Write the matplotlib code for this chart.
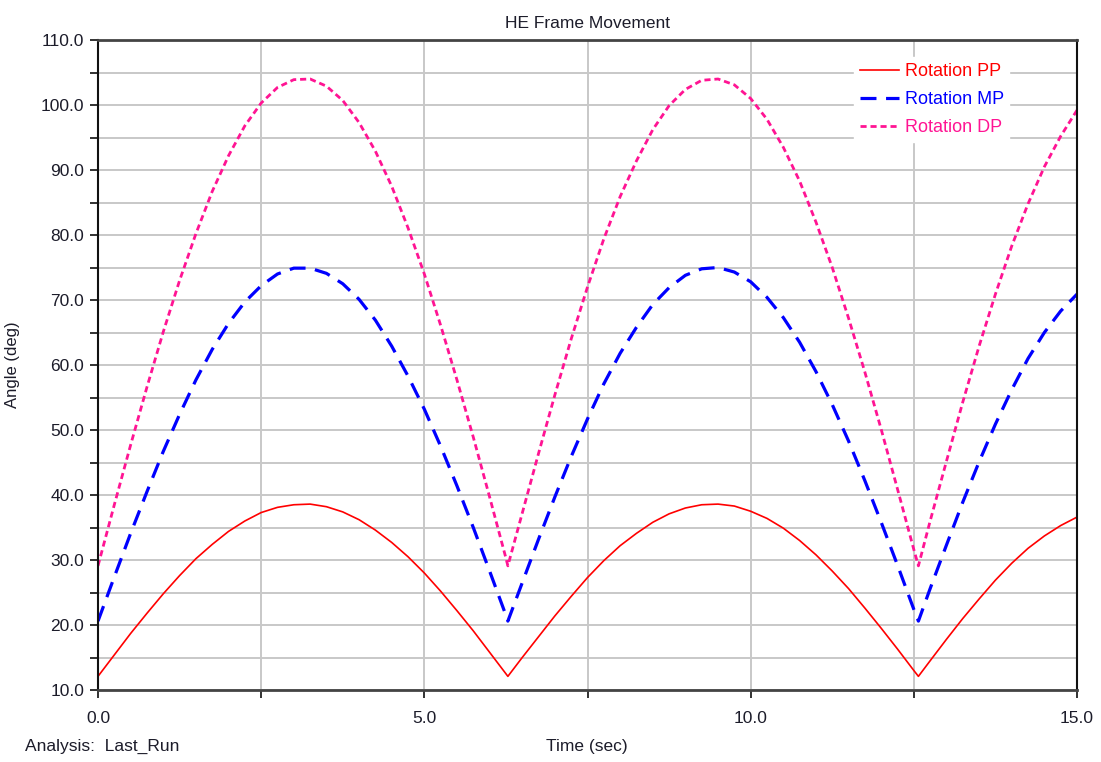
import matplotlib.pyplot as plt
from matplotlib.ticker import FixedLocator, FuncFormatter

plt.rcParams["font.family"] = ["Liberation Sans", "DejaVu Sans"]

time = [0.0, 0.25, 0.5, 0.75, 1.0, 1.25, 1.5, 1.75, 2.0, 2.25, 2.5, 2.75,
        3.0, 3.25, 3.5, 3.75, 4.0, 4.25, 4.5, 4.75, 5.0, 5.25, 5.5, 5.75,
        6.0, 6.25, 6.28, 6.5, 6.75, 7.0, 7.25, 7.5, 7.75, 8.0, 8.25, 8.5,
        8.75, 9.0, 9.25, 9.5, 9.75, 10.0, 10.25, 10.5, 10.75, 11.0, 11.25,
        11.5, 11.75, 12.0, 12.25, 12.5, 12.57, 12.75, 13.0, 13.25, 13.5,
        13.75, 14.0, 14.25, 14.5, 14.75, 15.0]

rot_pp = [12.1, 15.4, 18.7, 21.8, 24.8, 27.6, 30.2, 32.4, 34.4, 36.0, 37.3, 38.1,
          38.5, 38.6, 38.2, 37.4, 36.2, 34.6, 32.7, 30.5, 28.0, 25.2, 22.2, 19.1,
          15.8, 12.5, 12.1, 15.0, 18.2, 21.4, 24.4, 27.3, 29.9, 32.2, 34.1, 35.8,
          37.1, 38.0, 38.5, 38.6, 38.3, 37.5, 36.4, 34.9, 33.0, 30.8, 28.3,
          25.6, 22.6, 19.5, 16.3, 13.0, 12.1, 14.5, 17.8, 21.0, 24.0,
          26.9, 29.5, 31.8, 33.7, 35.3, 36.6]

rot_mp = [20.6, 27.4, 34.1, 40.5, 46.7, 52.4, 57.7, 62.4, 66.4, 69.7, 72.2, 74.0,
          74.9, 74.9, 74.1, 72.5, 70.1, 66.9, 62.9, 58.3, 53.2, 47.5, 41.4, 35.0,
          28.3, 21.5, 20.6, 26.5, 33.2, 39.7, 45.9, 51.7, 57.1, 61.8, 65.8, 69.3,
          71.9, 73.8, 74.8, 75.0, 74.3, 72.8, 70.4, 67.3, 63.5, 59.0, 53.9,
          48.3, 42.2, 35.8, 29.2, 22.4, 20.6, 25.6, 32.3, 38.9, 45.1,
          50.9, 56.2, 61.0, 65.0, 68.3, 70.9]

rot_dp = [29.1, 38.5, 47.7, 56.6, 65.1, 73.0, 80.2, 86.7, 92.2, 96.8, 100.3, 102.7,
          103.9, 104.0, 102.9, 100.7, 97.3, 92.9, 87.5, 81.1, 74.0, 66.1, 57.7, 48.9,
          39.7, 30.3, 29.1, 37.2, 46.4, 55.4, 64.0, 72.0, 79.4, 85.9, 91.4, 96.2,
          99.9, 102.4, 103.8, 104.0, 103.1, 101.0, 97.8, 93.5, 88.3, 82.0, 75.0,
          67.2, 58.9, 50.1, 40.9, 31.6, 29.1, 36.0, 45.2, 54.3, 62.9,
          70.9, 78.3, 84.8, 90.5, 95.2, 99.2]

x_ticks = [0.0, 2.5, 5.0, 7.5, 10.0, 12.5, 15.0]
y_ticks = [10, 15, 20, 25, 30, 35, 40, 45, 50, 55, 60, 65, 70, 75, 80, 85, 90,
           95, 100, 105, 110]

TXT = "#1c1c2a"

fig = plt.figure(figsize=(11.01, 7.62), dpi=100)
ax = fig.add_axes([98 / 1101, 72 / 762, 979 / 1101, 650 / 762])

ax.plot(time, rot_pp, color="#ff0000", lw=1.2, label="Rotation PP")
ax.plot(time, rot_mp, color="#0000ff", lw=2.3, dashes=(5, 3), label="Rotation MP")
ax.plot(time, rot_dp, color="#ff1493", lw=2.0, dashes=(2.2, 1.4), label="Rotation DP")

ax.set_xlim(0, 15)
ax.set_ylim(10, 110)
ax.xaxis.set_major_locator(FixedLocator(x_ticks))
ax.yaxis.set_major_locator(FixedLocator(y_ticks))
ax.xaxis.set_major_formatter(FuncFormatter(lambda v, p: f"{v:.1f}" if v % 5 == 0 else ""))
ax.yaxis.set_major_formatter(FuncFormatter(lambda v, p: f"{v:.1f}" if v % 10 == 0 else ""))
ax.tick_params(axis="both", direction="out", length=6, width=1.3, colors="#222222",
               labelsize=12.5, labelcolor=TXT)
ax.tick_params(axis="x", pad=9)
ax.tick_params(axis="y", pad=4)

ax.grid(True, color="#c8c8c8", lw=1.4)
ax.set_axisbelow(True)

for side in ["top", "bottom"]:
    ax.spines[side].set_color("#444444")
    ax.spines[side].set_linewidth(2)
for side in ["left", "right"]:
    ax.spines[side].set_color("#111111")
    ax.spines[side].set_linewidth(1.5)

ax.set_title("HE Frame Movement", fontsize=12.5, color=TXT, pad=9)
ax.set_ylabel("Angle (deg)", fontsize=12, color=TXT)
ax.yaxis.set_label_coords(-0.08, 0.5)

fig.text(587 / 1101, 1 - 746 / 762, "Time (sec)", fontsize=12.5, color=TXT,
         ha="center", va="center")
fig.text(25 / 1101, 1 - 746 / 762, "Analysis:  Last_Run", fontsize=12.5, color=TXT,
         ha="left", va="center")

leg = ax.legend(loc="upper right", bbox_to_anchor=(0.94, 0.987), frameon=True,
                fancybox=False, framealpha=1.0, edgecolor="white", fontsize=13,
                handlelength=2.2, handletextpad=0.3, labelspacing=0.62,
                borderpad=0.3)
for txt, line in zip(leg.get_texts(), leg.get_lines()):
    txt.set_color(line.get_color())

fig.savefig("out.png", dpi=100)
